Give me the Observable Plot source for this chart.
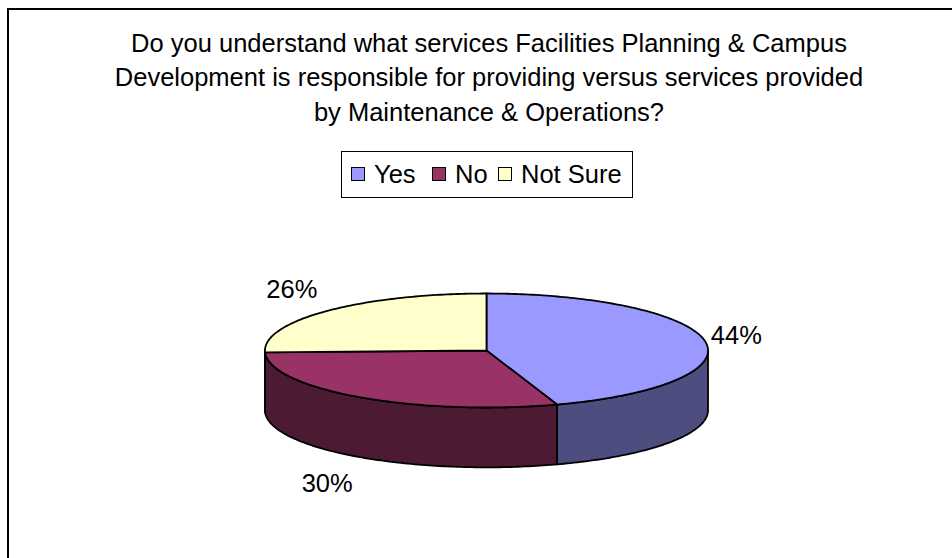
<!DOCTYPE html>
<html>
<head>
<meta charset="utf-8">
<script src="https://cdn.jsdelivr.net/npm/d3@7"></script>
<script src="https://cdn.jsdelivr.net/npm/@observablehq/plot@0.6"></script>
<style>
html,body{margin:0;padding:0;background:#fff;}
#page{position:relative;width:952px;height:558px;overflow:hidden;font-family:"Liberation Sans",Arial,sans-serif;color:#000;}
#frame{position:absolute;left:7px;top:8px;right:-10px;bottom:-10px;border:2px solid #000;}
#title{position:absolute;left:19px;width:940px;top:26px;text-align:center;font-size:25.5px;line-height:34.4px;white-space:nowrap;}
#legend{position:absolute;left:341px;top:151px;width:290px;height:45px;border:1px solid #000;font-size:25.5px;box-sizing:content-box;}
#legend span.sw{display:inline-block;width:12px;height:12px;border:1.5px solid #000;margin-right:9px;}
#legend span.item{display:flex;align-items:center;position:absolute;top:8px;line-height:28px;}
#chart{position:absolute;left:0;top:215px;}
</style>
</head>
<body>
<div id="page">
  <div id="frame"></div>
  <div id="title"></div>
  <div id="legend"></div>
  <div id="chart"></div>
</div>
<script>
const titleLines = [
  "Do you understand what services Facilities Planning & Campus",
  "Development is responsible for providing versus services provided",
  "by Maintenance & Operations?"
];
const categories = ["Yes", "No", "Not Sure"];
const shares = [44.49, 30.0, 25.51];
const topColors = ["#9999ff", "#993366", "#ffffcc"];
const wallColors = ["#4d4d80", "#4d1a33", "#808066"];
const legendLefts = [9, 90, 156];

// view of the tilted disc, in units of the disc radius
const depth = 1.05;
const skew = 2;

const rad = d => d * Math.PI / 180;
const view = deg => {
  const a = rad(deg - skew * Math.sin(rad(2 * deg)));
  return [Math.sin(a), -Math.cos(a)];
};
const arc = (from, to) => d3.range(0, 1.0001, 1 / Math.max(2, Math.ceil(to - from)))
  .map(t => view(from + (to - from) * t));

let start = 0;
const slices = categories.map((name, i) => {
  const a0 = start;
  const a1 = start + shares[i] * 3.6;
  start = a1;
  return {name, i, a0, a1, mid: (a0 + a1) / 2, label: d3.format(".0f")(shares[i]) + "%"};
});

const tops = slices.flatMap(s =>
  [[0, 0], ...arc(s.a0, s.a1)].map(([x, y]) => ({x, y, name: s.name, color: topColors[s.i]}))
);
const walls = slices.flatMap(s => {
  const from = Math.max(s.a0, 90), to = Math.min(s.a1, 270);
  if (to <= from) return [];
  const edge = arc(from, to);
  return [...edge, ...edge.slice().reverse().map(([x, y]) => [x, y + depth])]
    .map(([x, y]) => ({x, y, name: s.name, color: wallColors[s.i]}));
});
const labels = slices.map(s => {
  const [x, y] = view(s.mid);
  return {
    x: x + 0.165 * Math.sign(x) - 0.02,
    y: y * 1.5 + (s.mid > 90 && s.mid < 270 ? depth : 0),
    label: s.label
  };
});

const plot = Plot.plot({
  width: 952,
  height: 343,
  margin: 0,
  x: {domain: [-1, 1], range: [264.5, 707.5], axis: null},
  y: {domain: [-1, 1], range: [78, 192], axis: null},
  style: {background: "transparent", overflow: "visible"},
  marks: [
    Plot.line(walls, {x: "x", y: "y", z: "name", fill: d => d.color, stroke: "#000", strokeWidth: 1.8, curve: "linear-closed", strokeLinejoin: "round"}),
    Plot.line(tops, {x: "x", y: "y", z: "name", fill: d => d.color, stroke: "#000", strokeWidth: 1.8, curve: "linear-closed", strokeLinejoin: "round"}),
    Plot.text(labels, {x: "x", y: "y", dy: 1, text: "label", fontSize: 25.5, fontFamily: "Liberation Sans, Arial, sans-serif", fill: "#000"})
  ]
});
document.getElementById("chart").appendChild(plot);

const title = document.getElementById("title");
titleLines.forEach(t => {
  const d = document.createElement("div");
  d.textContent = t;
  title.appendChild(d);
});
const legend = document.getElementById("legend");
categories.forEach((c, i) => {
  const item = document.createElement("span");
  item.className = "item";
  item.style.left = legendLefts[i] + "px";
  const sw = document.createElement("span");
  sw.className = "sw";
  sw.style.background = topColors[i];
  item.appendChild(sw);
  item.appendChild(document.createTextNode(c));
  legend.appendChild(item);
});
</script>
</body>
</html>
